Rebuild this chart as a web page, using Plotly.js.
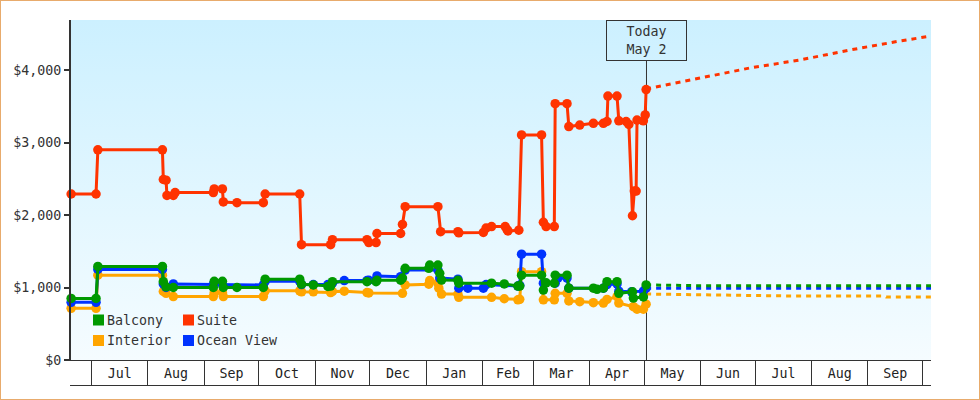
<!DOCTYPE html>
<html><head><meta charset="utf-8">
<script src="https://cdn.plot.ly/plotly-3.0.1.min.js"></script>
<style>
html,body{margin:0;padding:0;background:#fff}
#frame{position:relative;width:980px;height:400px;box-sizing:border-box;border:1px solid #e8ab6c;overflow:hidden}
#wash{position:absolute;left:70px;top:19px;width:860px;height:340px;background:linear-gradient(#ccf0ff,#f5fcff)}
#chart{position:absolute;left:-1px;top:-1px;width:980px;height:400px}
</style></head><body>
<div id="frame"><div id="wash"></div><div id="chart"></div></div>
<script>
// Days counted from 1 July; values in dollars.
const seriesNames=['Interior','Ocean View','Suite','Balcony'];
const seriesColors=['#ffa500','#0033ff','#ff3300','#009900'];

const suiteDays=[-11.2,2.5,3.5,39,39.5,41,41.5,45,46,67,67.5,72,72.5,80,94.5,95.5,114.5,115.5,131.5,132.5,151.5,152.5,156.5,157,170,171,172.5,190.5,192,201.5,202,215.5,217,220,227.5,228.5,229,235,236.5,247.5,248.5,250,254.5,255,261.5,262.5,268.5,276,281.5,283.5,284,289,290,294,295.5,297.5,298.5,299.5,300,303.5,304.5,305];
const suiteValues=[2290,2290,2900,2900,2490,2480,2270,2270,2310,2310,2360,2360,2180,2170,2170,2290,2290,1590,1590,1660,1660,1620,1620,1745,1745,1870,2115,2115,1770,1770,1755,1760,1820,1840,1840,1800,1780,1790,3105,3105,1900,1840,1840,3535,3535,3220,3240,3265,3265,3290,3640,3640,3300,3290,3250,1990,2330,2330,3310,3300,3380,3730];

const balconyDays=[-11.2,2.5,3.5,39,39.5,41,45,67,67.5,72,72.5,80,94.5,95.5,114.5,115.5,122,130,131.5,132.5,151.5,156.5,157,170,171,172.5,185.5,186,190.5,191.5,192.5,201.5,202,220,227,234.5,235.5,236.5,247.5,248.5,250,254.5,255,261.5,262.5,276,278,281.5,283.5,289,290,297.5,298,303.5,305];
const balconyValues=[850,850,1290,1290,1080,1010,1000,1000,1085,1085,1000,1000,1000,1115,1115,1045,1035,1015,1020,1080,1080,1080,1100,1100,1130,1265,1265,1310,1310,1196,1103,1100,1060,1060,1050,1020,1020,1170,1170,965,1065,1060,1170,1170,990,990,975,990,1080,1080,920,940,855,870,1035];

const oceanDays=[-11.2,2.5,3.5,39,39.5,41,45,67,72,94.5,95.5,114.5,115.5,122,130,132.5,139,151.5,152.5,157,170,172.5,190.5,191.5,201.5,202,207,215.5,217,234.5,235.5,236.5,247.5,248.5,255,256.5,261.5,262.5,281.5,283.5,289,290,297,303.5,305];
const oceanValues=[795,795,1250,1250,1050,1000,1050,1040,1040,1035,1085,1085,1040,1040,1040,1060,1095,1095,1100,1160,1150,1240,1240,1130,1115,990,990,990,1040,1020,1030,1460,1460,1060,1060,1130,1130,990,990,1040,1050,950,940,950,990];

const interiorDays=[-11.2,2.5,3.5,39,39.5,41,45,67,67.5,72,72.5,94.5,95.5,114.5,115.5,122,131.5,132.5,139,151.5,152.5,171,172.5,185.5,186,190.5,191,192.5,201.5,202,220,227,234.5,235.5,236.5,247.5,248.5,254.5,255,261.5,262.5,268.5,276,281.5,283.5,289,290,298,300,303.5,305];
const interiorValues=[713,713,1170,1170,945,920,875,875,930,930,875,875,955,955,940,940,930,945,950,930,925,920,1035,1045,1095,1060,990,910,910,865,865,845,830,837,1218,1218,830,830,920,920,815,805,790,785,835,875,785,735,700,700,770];

const forecastSuiteDays=[305,335,362,389.5,417,444.5,461.66];
const forecastSuiteValues=[3738,3890,4028,4138,4276,4400,4469];
const forecastBalconyDays=[305,335,461.66];
const forecastBalconyValues=[1035,1025,1025];
const forecastOceanDays=[305,335,461.66];
const forecastOceanValues=[990,990,990];
const forecastInteriorDays=[305,328,330,383,384,436,437,461.66];
const forecastInteriorValues=[910,905,895,892,883,883,869,869];

const yTicks=[0,1000,2000,3000,4000];
const todayDay=305.2;
const firstDay=-11.27, lastDay=461.66, yTop=4690;
const monoFont='"DejaVu Sans Mono", monospace';
const fontSize=13.3;
const ink='#333333';

const BASE=Date.UTC(2017,6,1);
const toDate=d=>BASE+d*86400000;

const past=[[interiorDays,interiorValues],[oceanDays,oceanValues],[suiteDays,suiteValues],[balconyDays,balconyValues]];
const future=[[forecastInteriorDays,forecastInteriorValues],[forecastOceanDays,forecastOceanValues],[forecastSuiteDays,forecastSuiteValues],[forecastBalconyDays,forecastBalconyValues]];

const traces=[];
future.forEach((s,i)=>traces.push({type:'scatter',mode:'lines',x:s[0].map(toDate),y:s[1],name:seriesNames[i]+' forecast',
  showlegend:false,hoverinfo:'skip',line:{color:seriesColors[i],width:3,dash:'5px,5px'}}));
past.forEach((s,i)=>traces.push({type:'scatter',mode:'lines+markers',x:s[0].map(toDate),y:s[1],name:seriesNames[i],
  showlegend:false,cliponaxis:false,line:{color:seriesColors[i],width:3},marker:{color:seriesColors[i],size:9.5,symbol:'circle'}}));

// Legend laid out as in the reference: two columns of small squares with labels
const legendOrder=[['Balcony','#009900',93,320],['Suite','#ff3300',183,320],['Interior','#ffa500',93,340.5],['Ocean View','#0033ff',183,340.5]];
const W=980,H=400,L=71,R=49,T=20,B=40,PW=W-L-R,PH=H-T-B;
const px=x=>(x-L)/PW, py=y=>1-(y-T)/PH;

const shapes=[
 {type:'line',layer:'below',xref:'x',yref:'paper',x0:toDate(todayDay),x1:toDate(todayDay),y0:0,y1:py(60.5),line:{color:ink,width:1}},
 {type:'line',layer:'above',xref:'paper',yref:'paper',x0:px(70),x1:1,y0:py(385.5),y1:py(385.5),line:{color:ink,width:1}}
];
const annotations=[{xref:'x',yref:'paper',x:toDate(todayDay),y:1,xanchor:'center',yanchor:'top',showarrow:false,
  text:'Today<br>May 2',width:79,height:39,align:'center',valign:'middle',bordercolor:ink,borderwidth:1,borderpad:0,
  font:{family:monoFont,size:fontSize,color:ink}}];
legendOrder.forEach(e=>{
  shapes.push({type:'rect',xref:'paper',yref:'paper',x0:px(e[2]),x1:px(e[2]+11),y0:py(e[3]-5.5),y1:py(e[3]+5.5),fillcolor:e[1],line:{width:0}});
  annotations.push({xref:'paper',yref:'paper',x:px(e[2]+13),y:py(e[3]),xanchor:'left',yanchor:'middle',showarrow:false,borderpad:0,
    text:e[0],font:{family:monoFont,size:fontSize,color:ink}});
});

Plotly.newPlot('chart',traces,{
  width:W,height:H,margin:{l:L,r:R,t:T,b:B,pad:0},
  paper_bgcolor:'rgba(0,0,0,0)',plot_bgcolor:'rgba(0,0,0,0)',showlegend:false,
  xaxis:{type:'date',range:[toDate(firstDay),toDate(lastDay)],dtick:'M1',tick0:'2017-07-01',tickformat:'%b',ticklabelmode:'period',
    ticks:'outside',ticklen:25,tickwidth:1,tickcolor:ink,showgrid:false,zeroline:false,showline:true,linecolor:ink,linewidth:1,ticklabelstandoff:-24,
    tickfont:{family:monoFont,size:fontSize,color:'#222'}},
  yaxis:{range:[0,yTop],tickvals:yTicks,ticktext:yTicks.map(v=>'$'+v.toLocaleString('en-US')),ticks:'outside',ticklen:5,tickwidth:2,tickcolor:ink,
    showgrid:false,zeroline:false,showline:true,linecolor:ink,linewidth:2,tickfont:{family:monoFont,size:fontSize,color:ink}},
  shapes,annotations
},{displayModeBar:false,staticPlot:true});
</script>
</body></html>
